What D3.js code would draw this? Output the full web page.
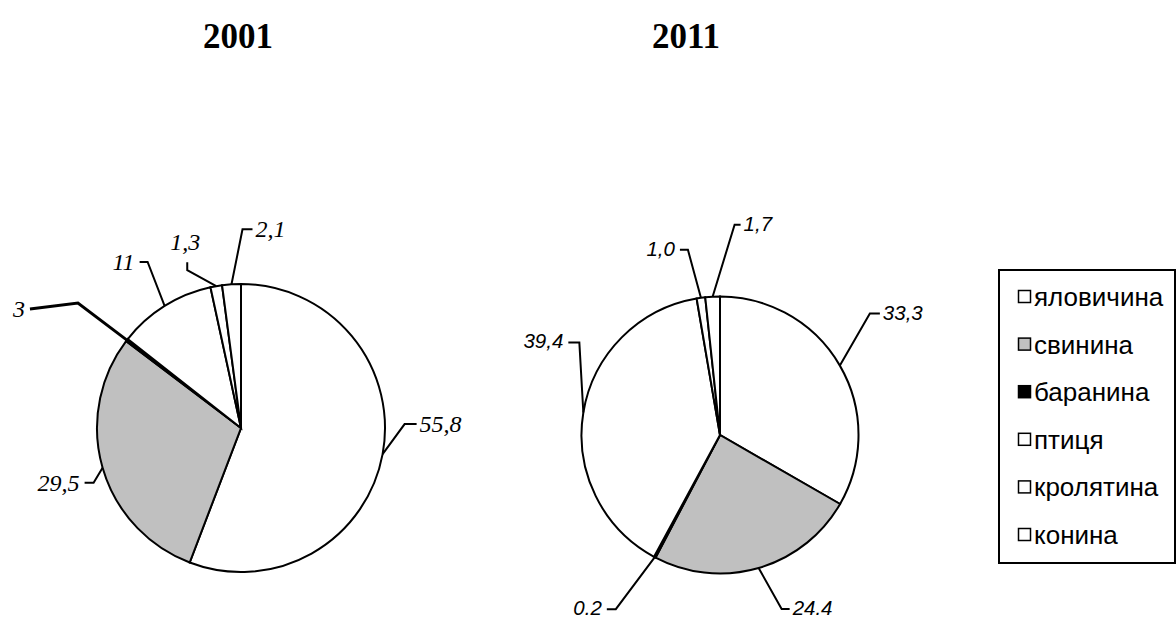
<!DOCTYPE html>
<html lang="uk">
  <head>
    <meta charset="UTF-8" />
    <title>Структура виробництва м'яса, 2001 та 2011</title>
    <script src="https://d3js.org/d3.v7.min.js"></script>
    <style>
      body {
        margin: 0;
        background: #fff;
      }
      .title {
        font-family: 'Liberation Serif', 'Times New Roman', serif;
        font-weight: bold;
        font-size: 35px;
      }
      .slice {
        stroke: #000;
        stroke-width: 2px;
      }
      .leader {
        fill: none;
        stroke: #000;
        stroke-width: 2px;
      }
      .lbl-serif {
        font-family: 'Liberation Serif', 'Times New Roman', serif;
        font-style: italic;
        font-size: 24px;
      }
      .lbl-sans {
        font-family: 'Liberation Sans', Arial, sans-serif;
        font-style: italic;
        font-size: 20.5px;
      }
      .legend text {
        font-family: 'Liberation Sans', Arial, sans-serif;
        font-size: 26px;
      }
    </style>
  </head>
  <body>
    <div id="chart"></div>
    <script>
      // data
      const categories = ['яловичина', 'свинина', 'баранина', 'птиця', 'кролятина', 'конина'];
      const years = ['2001', '2011'];
      const values2001 = [55.8, 29.5, 0.3, 11, 1.3, 2.1];
      const labels2001 = ['55,8', '29,5', '3', '11', '1,3', '2,1'];
      const values2011 = [33.3, 24.4, 0.2, 39.4, 1.0, 1.7];
      const labels2011 = ['33,3', '24.4', '0.2', '39,4', '1,0', '1,7'];

      const fills = ['#fff', '#c0c0c0', '#000', '#fff', '#fff', '#fff'];

      const width = 1176,
        height = 621;

      const svg = d3
        .select('#chart')
        .append('svg')
        .attr('width', width)
        .attr('height', height);

      svg.append('rect').attr('width', width).attr('height', height).attr('fill', '#fff');

      // layout of each pie + hand placed leader elbows (like manually moved labels)
      const pies = [
        {
          cx: 241, cy: 428, r: 144, values: values2001, labels: labels2001, title: years[0], titleX: 238,
          cls: 'lbl-serif', base: 8,
          // elbow offset from the arc point, then the short tick
          leaders: [
            { e: [22, -30], t: [12, 0] },
            { e: [-9, 15], t: [-9, 0] },
            { e: [-49, -37], t: [-48, 6], w: 3 },
            { e: [-17, -44], t: [-8, 0] },
            { e: [-29, -16], t: [0, -8] },
            { e: [11, -55], t: [10, 0] },
          ],
        },
        {
          cx: 720, cy: 435, r: 138.5, values: values2011, labels: labels2011, title: years[1], titleX: 686,
          cls: 'lbl-sans', base: 6,
          leaders: [
            { e: [30, -52], t: [10, 0] },
            { e: [23, 41], t: [8, 0] },
            { e: [-39, 52], t: [-9, 0] },
            { e: [-4, -70], t: [-11, 0] },
            { e: [-13, -48], t: [-8, 0] },
            { e: [22, -72], t: [6, 0] },
          ],
        },
      ];

      const pie = d3.pie().sort(null).value((d) => d);

      pies.forEach((p) => {
        svg
          .append('text')
          .attr('class', 'title')
          .attr('x', p.titleX)
          .attr('y', 48)
          .attr('text-anchor', 'middle')
          .text(p.title);

        const g = svg.append('g').attr('transform', `translate(${p.cx},${p.cy})`);
        const arc = d3.arc().innerRadius(0).outerRadius(p.r);
        const arcs = pie(p.values);

        g.selectAll('path.slice')
          .data(arcs)
          .join('path')
          .attr('class', 'slice')
          .attr('d', arc)
          .attr('fill', (d, i) => fills[i]);

        const line = d3.line();
        arcs.forEach((a, i) => {
          const mid = (a.startAngle + a.endAngle) / 2;
          const p0 = [p.r * Math.sin(mid), -p.r * Math.cos(mid)];
          const L = p.leaders[i];
          const p1 = [p0[0] + L.e[0], p0[1] + L.e[1]];
          const p2 = [p1[0] + L.t[0], p1[1] + L.t[1]];
          g.append('path')
            .attr('class', 'leader')
            .attr('d', line([p0, p1, p2]))
            .style('stroke-width', L.w || 2);

          const t = g.append('text').attr('class', p.cls).text(p.labels[i]);
          if (L.t[0] > 0) {
            t.attr('x', p2[0] + 3).attr('y', p2[1] + p.base).attr('text-anchor', 'start');
          } else if (L.t[0] < 0) {
            t.attr('x', p2[0] - 5).attr('y', p2[1] + p.base).attr('text-anchor', 'end');
          } else {
            t.attr('x', p2[0] - 2).attr('y', p2[1] - 12).attr('text-anchor', 'middle');
          }
        });
      });

      // legend
      const lg = svg.append('g').attr('class', 'legend');
      lg.append('rect')
        .attr('x', 999)
        .attr('y', 270)
        .attr('width', 176)
        .attr('height', 293)
        .attr('fill', '#fff')
        .attr('stroke', '#000')
        .attr('stroke-width', 2);

      const ly = d3
        .scalePoint()
        .domain(categories)
        .range([297, 535]);

      const item = lg
        .selectAll('g.item')
        .data(categories)
        .join('g')
        .attr('class', 'item')
        .attr('transform', (d) => `translate(0,${ly(d)})`);

      item
        .append('rect')
        .attr('x', 1018.5)
        .attr('y', -6.5)
        .attr('width', 12)
        .attr('height', 12)
        .attr('fill', (d, i) => fills[i])
        .attr('stroke', '#000')
        .attr('stroke-width', 1.5);

      item
        .append('text')
        .attr('x', 1034)
        .attr('y', 9)
        .text((d) => d);
    </script>
  </body>
</html>
